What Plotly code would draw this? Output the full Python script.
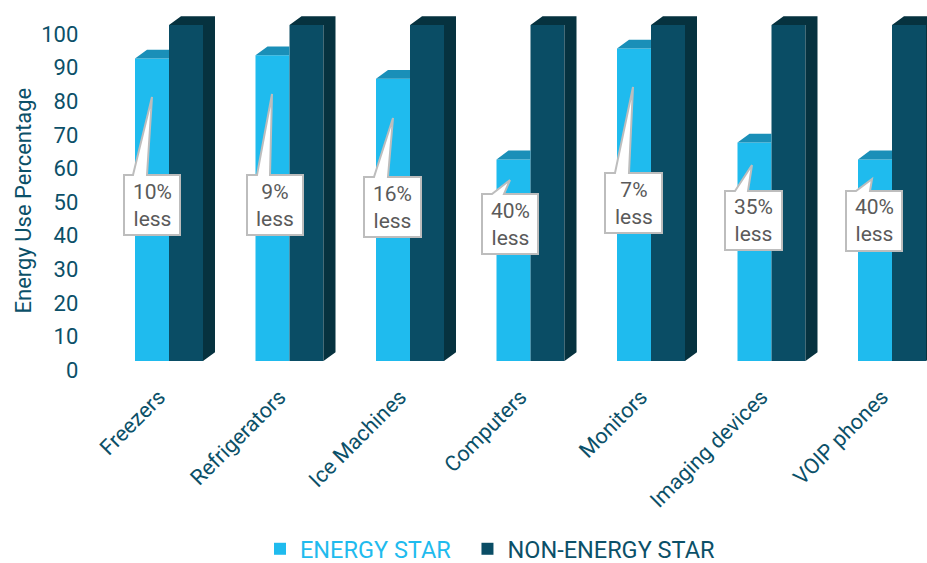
import plotly.graph_objects as go

categories = ["Freezers", "Refrigerators", "Ice Machines", "Computers", "Monitors", "Imaging devices", "VOIP phones"]
energy_star = [90, 91, 84, 60, 93, 65, 60]
non_energy_star = [100, 100, 100, 100, 100, 100, 100]
less_labels = ["10%", "9%", "16%", "40%", "7%", "35%", "40%"]
y_ticks = [0, 10, 20, 30, 40, 50, 60, 70, 80, 90, 100]

W, H = 927, 563
LIGHT, DARK = "#1FBBEE", "#0A4D65"
LIGHT_TOP, DARK_FACE = "#1A8FB8", "#06323F"
TEXT = "#0B5068"

# plot-area geometry (px)
PX_PER_CAT, PX_PER_UNIT = 120.5, 3.36
LEFT, BASE = 108.75, 361
X_RANGE = [-0.5, (W - LEFT) / PX_PER_CAT - 0.5]
Y_RANGE = [0, BASE / PX_PER_UNIT]
BAR_W = 34 / PX_PER_CAT
DX, DY = 12 / PX_PER_CAT, 8.8 / PX_PER_UNIT

def px(x): return x / W
def py(y): return 1 - y / H

fig = go.Figure()
fig.add_bar(x=list(range(len(categories))), y=energy_star,
            name=f'<span style="color:{LIGHT}">ENERGY STAR</span>\u00a0\u00a0', marker=dict(color=LIGHT, line_width=0), hoverinfo="skip")
fig.add_bar(x=list(range(len(categories))), y=non_energy_star,
            name=f'<span style="color:{TEXT}">NON-ENERGY STAR</span>', marker=dict(color=DARK, line_width=0), hoverinfo="skip")

# pseudo-3D faces derived from the values
lx, ly, dx, dy = [], [], [], []
for i, (a, b) in enumerate(zip(energy_star, non_energy_star)):
    lx += [i - BAR_W, i - BAR_W + DX, i, i, None]
    ly += [a, a + DY, a + DY, a, None]
    r = i + BAR_W
    dx += [i, i + DX, r + DX, r, None, r, r + DX, r + DX, r, None]
    dy += [b, b + DY, b + DY, b, None, 0, DY, b + DY, b, None]
for xs, ys, c in ((lx, ly, LIGHT_TOP), (dx, dy, DARK_FACE)):
    fig.add_scatter(x=xs, y=ys, mode="lines", line_width=0, fill="toself", fillcolor=c,
                    showlegend=False, hoverinfo="skip")

# callouts: box left, right, top, bottom, tail base left, tail base right, tip x, tip y (px)
callout_geom = [
    (124, 180, 175, 235, 133, 147, 152, 97),
    (247, 303, 175, 235, 257, 270, 272, 94),
    (364, 421, 177, 237, 374, 388, 393, 118),
    (482, 538, 194, 254, 492, 504, 510, 180),
    (605, 662, 173, 233, 615, 629, 633, 87),
    (725, 782, 191, 250, 735, 748, 752, 165),
    (846, 902, 191, 251, 856, 870, 872, 179),
]
shapes, annotations = [], []
for (l, r, t, b, b0, b1, tx, ty), label in zip(callout_geom, less_labels):
    pts = [(l, t), (b0, t), (tx, ty), (b1, t), (r, t), (r, b), (l, b)]
    path = "M" + " L".join(f"{px(x):.5f},{py(y):.5f}" for x, y in pts) + " Z"
    shapes.append(dict(type="path", xref="paper", yref="paper", path=path, fillcolor="white",
                       line=dict(color="#BDBDBD", width=2), layer="above"))
    annotations.append(dict(xref="paper", yref="paper", x=px((l + r) / 2), y=py((t + b) / 2),
                            xanchor="center", yanchor="middle", align="center",
                            text=f"{label}<br>less", showarrow=False,
                            font=dict(family="Roboto", size=21, color="#5A5A5A")))
annotations.append(dict(xref="paper", yref="paper", x=px(23), y=py(200.5), xanchor="center", yanchor="middle",
                        text="Energy Use Percentage", textangle=-90, showarrow=False,
                        font=dict(family="Roboto", size=22, color=TEXT)))

fig.update_layout(
    width=W, height=H, margin=dict(l=0, r=0, t=0, b=0, autoexpand=False),
    paper_bgcolor="white", plot_bgcolor="white",
    barmode="group", bargap=1 - 2 * BAR_W, bargroupgap=0,
    font=dict(family="Roboto", color=TEXT),
    shapes=shapes, annotations=annotations,
    legend=dict(orientation="h", x=px(260), xanchor="left", y=py(549), yanchor="middle",
                font=dict(size=23.5), bgcolor="rgba(0,0,0,0)"),
    xaxis=dict(domain=[px(LEFT), 1], range=X_RANGE, tickmode="array",
               tickvals=list(range(len(categories))), ticktext=categories, tickangle=-45,
               ticks="outside", ticklen=14, tickcolor="rgba(0,0,0,0)", showgrid=False, zeroline=False,
               showline=False, tickfont=dict(size=21.5, color=TEXT), ticklabelshift=-10, automargin=False),
    yaxis=dict(domain=[py(BASE), 1], range=Y_RANGE, tickmode="array", tickvals=y_ticks,
               ticks="outside", ticklen=25, tickcolor="rgba(0,0,0,0)", showgrid=False, zeroline=False,
               showline=False, tickfont=dict(size=22, color=TEXT), ticklabelshift=9, automargin=False),
)
fig.write_html("out.html", post_script="document.body.style.margin='0';", config={"displayModeBar": False})
